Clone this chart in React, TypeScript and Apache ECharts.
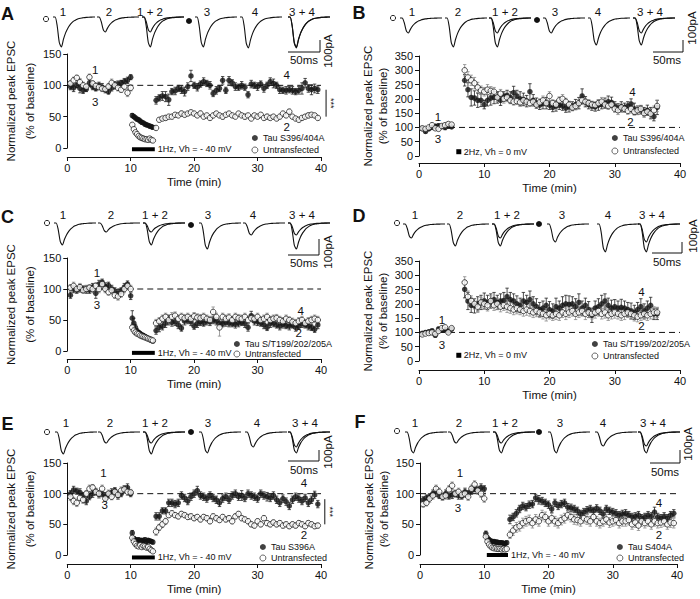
import React, { useEffect, useRef } from "react";
import * as echarts from "echarts";

const FONT = "'Liberation Sans', Arial, Helvetica, sans-serif";
const INK = "#111111";

// ---------- time grids (min) ----------
const T_LTD = [0.5,1,1.5,2,2.5,3,3.5,4,4.5,5,5.5,6,6.5,7,7.5,8,8.5,9,9.5,10,
  10.25,10.5,10.75,11,11.25,11.5,11.75,12,12.25,12.5,12.75,13,13.25,13.5,
  14,14.5,15,15.5,16,16.5,17,17.5,18,18.5,19,19.5,20,20.5,21,21.5,22,22.5,23,23.5,24,24.5,25,25.5,26,26.5,27,27.5,28,28.5,29,29.5,30,30.5,31,31.5,32,32.5,33,33.5,34,34.5,35,35.5,36,36.5,37,37.5,38,38.5,39,39.5];
const T_LTP = [0.5,1,1.5,2,2.5,3,3.5,4,4.5,5,
  7,7.5,8,8.5,9,9.5,10,10.5,11,11.5,12,12.5,13,13.5,14,14.5,15,15.5,16,16.5,17,17.5,18,18.5,19,19.5,20,20.5,21,21.5,22,22.5,23,23.5,24,24.5,25,25.5,26,26.5,27,27.5,28,28.5,29,29.5,30,30.5,31,31.5,32,32.5,33,33.5,34,34.5,35,35.5,36,36.5];

// ---------- x / y tick values ----------
const X_MAX = 40;
const X_INTERVAL = 10;
const Y_MAX_LTD = 150;
const Y_MAX_LTP = 350;
const Y_INTERVAL = 50;

// ---------- panel A ----------
const A_TAU = [98,96,100,95,92,94,104,98,95,100,97,93,90,96,100,102,104,106,108,113,
  52,50,48,46,45,43,41,40,38,37,36,35,34,33,
  76,80,83,82,77,90,91,95,93,90,98,115,100,97,102,106,103,100,87,92,95,108,92,108,104,98,97,100,97,85,102,100,98,102,95,100,106,103,100,93,92,92,93,92,90,92,95,104,95,93,95,93];
const A_TAU_ERR = [5,6,4,7,5,4,6,5,4,5,6,5,4,5,6,5,4,5,5,4,
  3,3,3,3,3,3,3,2,3,3,2,3,3,3,
  6,5,7,8,9,5,6,5,6,7,6,9,5,6,5,6,5,6,5,6,5,6,5,6,5,6,5,6,5,5,6,5,6,5,6,5,6,7,5,6,5,6,5,6,5,6,9,7,6,8,7,6];
const A_UNT = [103,108,112,105,100,98,113,103,99,97,95,94,98,104,100,96,93,98,88,96,
  37,30,25,22,19,17,16,15,14,14,13,15,13,12,
  32,45,47,48,50,50,53,52,55,53,55,57,55,52,55,50,52,48,52,55,52,50,53,55,52,50,55,52,50,52,47,52,50,53,48,50,48,50,47,50,55,52,58,50,47,45,48,50,52,53,52,48];
const A_UNT_ERR = [4,5,4,6,5,4,5,4,5,4,5,4,5,6,4,5,4,5,6,5,
  3,3,2,2,2,2,2,2,2,2,2,2,2,2,
  3,3,3,4,3,3,3,3,4,3,3,3,3,3,4,3,3,3,3,3,3,4,3,3,3,3,3,3,4,3,3,3,3,3,3,4,3,3,3,3,3,3,4,3,3,3,3,3,4,3,3,3];

// ---------- panel B ----------
const B_TAU = [96,86,95,100,104,106,103,100,104,102,
  265,232,205,203,195,195,180,195,203,205,205,195,210,212,205,222,210,200,198,192,225,195,185,178,183,185,178,170,175,178,175,168,172,175,180,185,210,190,180,175,172,178,180,185,190,188,175,168,172,170,175,182,165,160,162,155,160,150,138,170];
const B_TAU_ERR = [5,6,5,6,7,6,5,8,6,5,
  20,25,30,25,25,22,15,20,25,22,20,18,15,18,20,22,20,25,22,20,28,20,18,15,18,20,15,15,18,15,15,15,18,15,18,20,25,18,15,15,15,18,15,18,20,18,15,15,18,15,15,18,20,15,15,15,18,20,15,25];
const B_UNT = [97,95,100,108,97,95,105,108,112,110,
  300,275,265,255,240,230,225,232,228,225,205,218,200,205,195,190,192,188,195,190,185,190,180,188,195,185,210,185,180,195,200,190,180,170,175,185,195,190,185,180,178,185,190,180,175,180,165,160,170,165,158,165,155,160,165,150,155,148,160,175];
const B_UNT_ERR = [5,5,5,6,5,5,6,5,6,5,
  20,20,18,20,18,15,15,18,15,15,15,15,15,15,12,12,12,12,15,12,12,12,12,12,15,12,15,12,12,12,15,12,12,12,12,12,15,12,12,12,12,12,15,12,12,12,12,15,12,12,12,15,12,15,12,15,12,15,15,20];

// ---------- panel C ----------
const C_TAU = [90,100,98,101,100,99,98,103,93,108,111,104,106,100,97,93,97,103,108,89,
  53,45,38,32,30,28,26,25,23,22,20,19,17,16,
  33,38,40,45,50,46,47,42,37,48,50,47,40,44,47,45,48,47,50,48,45,44,46,45,44,43,45,46,44,38,57,48,47,45,42,38,44,45,42,40,43,41,40,42,38,40,44,42,40,38,35,42];
const C_TAU_ERR = [5,6,5,6,5,6,5,6,8,6,5,6,5,6,5,6,5,6,5,6,
  12,8,5,4,3,3,3,3,3,2,2,2,2,2,
  6,7,6,7,8,6,6,6,5,6,6,6,5,6,6,5,6,6,6,6,6,5,6,6,5,6,6,5,6,6,7,6,6,5,6,5,6,6,5,6,6,5,6,5,6,5,6,5,6,5,5,6];
const C_UNT = [102,105,100,103,98,100,102,100,105,100,108,100,95,98,90,88,92,100,105,100,
  38,33,30,28,27,25,24,23,22,21,20,19,18,17,
  45,48,52,55,50,55,57,52,55,53,55,52,56,54,53,55,52,50,63,55,38,55,52,54,50,55,53,52,55,50,53,52,55,50,52,55,50,52,53,50,48,52,50,47,45,48,50,45,48,50,52,50];
const C_UNT_ERR = [5,6,5,6,5,6,5,6,5,6,5,6,5,6,5,6,5,6,5,6,
  5,4,4,3,3,3,3,3,3,3,2,2,2,2,
  6,6,6,6,6,7,6,6,6,6,6,6,6,6,6,6,6,6,8,6,14,6,6,6,6,6,6,6,6,6,6,6,6,5,6,6,6,6,6,6,6,6,5,6,6,6,6,6,6,6,6,6];

// ---------- panel D ----------
const D_TAU = [97,100,102,106,90,112,108,110,105,112,
  251,210,195,193,200,205,210,205,210,215,205,210,212,225,215,210,200,195,210,205,215,200,190,180,185,195,180,175,190,185,195,200,198,200,190,205,185,195,180,160,185,190,200,210,195,185,190,185,188,185,180,175,170,180,190,175,185,195,165,165];
const D_TAU_ERR = [5,5,6,5,6,6,5,6,5,6,
  30,30,25,25,25,25,28,25,25,25,25,25,28,30,25,25,28,25,30,25,30,25,28,25,25,25,28,25,30,25,30,30,30,25,28,30,25,25,28,25,25,28,30,25,25,28,25,25,28,25,25,28,25,25,28,25,25,28,20,20];
const D_UNT = [93,96,98,100,95,105,115,118,100,115,
  275,225,210,200,190,205,200,195,210,195,200,190,195,190,185,180,185,180,175,180,175,170,175,170,165,160,165,160,165,160,170,165,170,175,165,170,175,165,170,165,170,175,165,170,160,165,170,165,160,165,170,165,160,155,160,165,160,165,170,170];
const D_UNT_ERR = [5,5,5,5,5,5,6,6,5,5,
  20,20,18,18,20,18,18,20,18,18,20,18,18,20,18,18,20,18,18,20,18,18,20,18,18,20,18,18,20,18,18,20,18,18,20,18,18,20,18,18,20,18,18,20,18,18,20,18,18,20,18,18,20,18,18,20,18,18,20,18];

// ---------- panel E ----------
const E_TAU = [100,106,104,102,97,88,95,100,103,99,100,96,98,102,105,97,100,107,110,100,
  36,27,25,24,25,23,24,23,25,22,24,23,22,21,
  63,63,72,72,85,85,83,85,97,93,88,95,100,105,97,95,92,97,93,90,85,92,95,90,97,100,95,97,93,100,97,95,92,100,97,95,93,97,90,85,92,87,80,90,95,92,88,93,85,90,98,83];
const E_TAU_ERR = [5,6,5,6,5,6,5,6,5,6,5,6,5,6,5,6,5,6,6,5,
  4,3,3,3,3,3,3,3,3,3,3,3,3,3,
  6,6,5,5,6,6,6,6,6,6,6,6,6,7,6,6,6,6,6,6,6,6,6,6,6,6,6,8,6,6,6,6,6,6,6,7,6,6,6,6,6,6,6,6,6,6,6,6,6,6,6,6];
const E_UNT = [95,88,85,93,90,100,108,110,103,100,108,92,100,95,103,98,105,107,103,102,
  28,22,18,15,14,16,13,15,14,12,13,10,8,6,
  38,45,50,55,65,68,65,63,67,65,62,63,60,62,58,62,60,55,63,60,57,62,58,60,55,63,67,60,58,55,50,48,55,50,60,52,50,53,50,52,48,50,47,50,48,52,50,47,52,50,47,48];
const E_UNT_ERR = [6,6,6,5,6,5,6,5,6,5,6,5,6,5,6,5,6,5,6,5,
  4,4,3,3,3,3,3,3,3,3,3,3,3,3,
  6,5,5,5,4,4,4,4,4,4,4,4,4,4,4,4,4,4,4,4,4,4,4,4,4,4,4,4,4,4,4,4,4,4,4,4,4,4,4,4,4,4,4,4,4,4,4,4,4,4,4,4];

// ---------- panel F ----------
const F_TAU = [90,93,95,100,103,97,95,100,96,98,100,97,96,103,100,105,108,106,110,108,
  35,28,25,23,22,22,21,21,20,20,20,19,19,20,
  58,62,68,75,80,78,82,83,93,90,88,85,82,75,85,80,83,85,78,77,75,72,67,70,73,75,72,76,72,67,75,72,70,68,65,67,68,65,62,63,65,60,62,65,63,70,62,60,63,60,65,68];
const F_TAU_ERR = [5,5,5,6,8,5,5,6,5,6,5,6,5,6,5,6,5,6,6,5,
  4,3,3,3,3,3,3,3,3,3,3,3,3,3,
  7,6,6,6,6,6,6,6,6,7,6,6,6,6,6,6,6,6,6,6,6,6,6,6,6,6,6,6,6,6,6,6,6,6,6,6,6,6,6,6,6,6,6,6,6,8,6,6,6,6,6,6];
const F_UNT = [83,85,92,97,108,103,95,97,107,113,100,103,98,100,95,108,115,105,100,92,
  30,22,17,14,12,11,11,10,10,10,9,10,9,10,
  33,40,45,47,52,55,57,52,58,55,65,62,55,60,55,52,57,60,65,62,58,57,55,60,58,55,62,55,52,55,58,53,55,57,52,55,55,57,50,53,48,55,52,55,50,55,52,53,55,50,53,52];
const F_UNT_ERR = [5,5,6,6,6,6,6,6,6,6,6,6,6,6,6,6,6,6,6,6,
  3,3,2,2,2,2,2,2,2,2,2,2,2,2,
  6,8,8,8,8,8,8,8,8,8,8,8,8,8,8,8,8,8,8,8,8,8,8,8,8,8,8,8,8,8,8,8,8,8,8,8,8,8,8,8,8,8,8,8,8,8,8,8,8,8,8,8];

// ---------- names / labels ----------
const TAU_NAMES = ["Tau S396/404A", "Tau S396/404A", "Tau S/T199/202/205A", "Tau S/T199/202/205A", "Tau S396A", "Tau S404A"];
const UNT_NAME = "Untransfected";
const STIM_TEXT_LTD = "1Hz, Vh = - 40 mV";
const STIM_TEXT_LTP = "2Hz, Vh = 0 mV";
const TRACE_LABELS = ["1", "2", "1 + 2", "3", "4", "3 + 4"];
const TRACE_COMBOS = [[0], [1], [0, 1], [2], [3], [2, 3]];

// EPSC waveform template (time in ms, normalized amplitude)
const EPSC_T = [0,3.2,6.4,9.6,12.8,16,19.2,22.4,25.6,28.8,32,35.2,38.4,41.6,44.8,48,51.2,54.4,57.6,60.8,64];
const EPSC_SHAPE = [0,0,-0.3,-0.85,-1,-0.74,-0.53,-0.38,-0.27,-0.19,-0.13,-0.09,-0.06,-0.04,-0.03,-0.02,-0.012,-0.007,-0.004,-0.002,0];

// peak amplitudes (pA) of traces 1,2,3,4 per panel
const A_TRACE_PA = [250, 125, 250, 258];
const B_TRACE_PA = [125, 242, 125, 225];
const C_TRACE_PA = [183, 75, 217, 100];
const D_TRACE_PA = [117, 183, 150, 233];
const E_TRACE_PA = [183, 92, 175, 125];
const F_TRACE_PA = [175, 92, 175, 117];

// annotation labels [t, value, text]
const A_ANNOT: [number, number, string][] = [[4.4, 125, "1"], [4.4, 73, "3"], [34.6, 117, "4"], [34.6, 33, "2"]];
const B_ANNOT: [number, number, string][] = [[2.9, 138, "1"], [2.9, 60, "3"], [32.7, 223, "4"], [32.4, 119, "2"]];
const C_ANNOT: [number, number, string][] = [[4.7, 126, "1"], [4.7, 74, "3"], [36.8, 65, "4"], [36.5, 29, "2"]];
const D_ANNOT: [number, number, string][] = [[3.5, 145, "1"], [3.5, 56, "3"], [34.1, 242, "4"], [34.1, 123, "2"]];
const E_ANNOT: [number, number, string][] = [[5.7, 134, "1"], [5.9, 82, "3"], [37.3, 117, "4"], [37.3, 33, "2"]];
const F_ANNOT: [number, number, string][] = [[6.2, 133, "1"], [5.9, 76, "3"], [37.2, 84, "4"], [37.2, 33, "2"]];

// stimulation marks [t0, t1, y]
const A_STIM = [10.2, 13.8, -2];
const B_STIM = [6.1, 6.1, 15];
const C_STIM = [10.2, 13.8, -3];
const D_STIM = [6.1, 6.1, 20];
const E_STIM = [10.2, 13.8, -4];
const F_STIM = [10.4, 13.7, 0];

// significance bracket [t, yTop, yBottom]
const A_SIG = [40.8, 93, 50];
const E_SIG = [40.6, 91, 50];

type Panel = {
  letter: string; letterPos: [number, number];
  grid: { left: number; top: number; width: number; height: number };
  xOffset: number; yMax: number; nameGap: number; nameLH: number;
  times: number[]; tau: number[]; tauErr: number[]; unt: number[]; untErr: number[]; tauName: string;
  legend: { left: number; top: number; gap: number };
  stim: number[]; stimKind: "bar" | "square"; stimText: string;
  annot: [number, number, string][]; sig?: number[];
  tr: { lefts: number[]; labelXs: number[]; labelY: number; baseY: number; openC: [number, number]; filledC: [number, number];
        amps: number[]; scale: { vx: number; vy0: number; hy: number; hx0: number; t50: [number, number]; t100: [number, number] } };
};

const PANELS: Panel[] = [
  {
    letter: "A", letterPos: [7.5, 14], grid: { left: 62, top: 54, width: 259, height: 94 }, xOffset: 9, yMax: Y_MAX_LTD, nameGap: 20.5, nameLH: 19,
    times: T_LTD, tau: A_TAU, tauErr: A_TAU_ERR, unt: A_UNT, untErr: A_UNT_ERR, tauName: TAU_NAMES[0],
    legend: { left: 251.5, top: 133, gap: 2 }, stim: A_STIM, stimKind: "bar", stimText: STIM_TEXT_LTD, annot: A_ANNOT, sig: A_SIG,
    tr: { lefts: [53, 97, 142, 195, 240, 288], labelXs: [63, 109, 150, 207, 255, 302], labelY: 12, baseY: 17, openC: [46, 19], filledC: [189, 21], amps: A_TRACE_PA,
      scale: { vx: 320, vy0: 40, hy: 52, hx0: 288, t50: [304, 60], t100: [328, 51] } },
  },
  {
    letter: "B", letterPos: [359, 13], grid: { left: 419, top: 56, width: 261, height: 100 }, xOffset: 7, yMax: Y_MAX_LTP, nameGap: 28.5, nameLH: 15,
    times: T_LTP, tau: B_TAU, tauErr: B_TAU_ERR, unt: B_UNT, untErr: B_UNT_ERR, tauName: TAU_NAMES[1],
    legend: { left: 611.5, top: 133, gap: 3 }, stim: B_STIM, stimKind: "square", stimText: STIM_TEXT_LTP, annot: B_ANNOT,
    tr: { lefts: [400, 445, 489, 543, 588, 633], labelXs: [412, 458, 505, 555, 598, 650], labelY: 12, baseY: 18, openC: [393, 18], filledC: [537, 20], amps: B_TRACE_PA,
      scale: { vx: 683, vy0: 40, hy: 52, hx0: 653, t50: [667, 60], t100: [692, 28] } },
  },
  {
    letter: "C", letterPos: [7.5, 217], grid: { left: 62, top: 258, width: 259, height: 93 }, xOffset: 8, yMax: Y_MAX_LTD, nameGap: 20.5, nameLH: 19,
    times: T_LTD, tau: C_TAU, tauErr: C_TAU_ERR, unt: C_UNT, untErr: C_UNT_ERR, tauName: TAU_NAMES[2],
    legend: { left: 233.5, top: 339, gap: 0 }, stim: C_STIM, stimKind: "bar", stimText: STIM_TEXT_LTD, annot: C_ANNOT,
    tr: { lefts: [54, 98, 143, 199, 243, 288], labelXs: [63, 111, 155, 208, 253, 302], labelY: 215, baseY: 223, openC: [47, 223], filledC: [191, 225], amps: C_TRACE_PA,
      scale: { vx: 319, vy0: 239, hy: 255, hx0: 288, t50: [304, 263], t100: [328, 252] } },
  },
  {
    letter: "D", letterPos: [359, 216], grid: { left: 419, top: 261, width: 261, height: 100 }, xOffset: 9, yMax: Y_MAX_LTP, nameGap: 28.5, nameLH: 15,
    times: T_LTP, tau: D_TAU, tauErr: D_TAU_ERR, unt: D_UNT, untErr: D_UNT_ERR, tauName: TAU_NAMES[3],
    legend: { left: 591.5, top: 339, gap: 2 }, stim: D_STIM, stimKind: "square", stimText: STIM_TEXT_LTP, annot: D_ANNOT,
    tr: { lefts: [403, 447, 492, 547, 597, 638], labelXs: [415, 460, 507, 562, 608, 652], labelY: 215, baseY: 224, openC: [397, 223], filledC: [539, 224], amps: D_TRACE_PA,
      scale: { vx: 682, vy0: 242, hy: 253, hx0: 652, t50: [667, 262], t100: [693, 236] } },
  },
  {
    letter: "E", letterPos: [7.5, 424], grid: { left: 62, top: 463, width: 259, height: 92 }, xOffset: 9, yMax: Y_MAX_LTD, nameGap: 20.5, nameLH: 19,
    times: T_LTD, tau: E_TAU, tauErr: E_TAU_ERR, unt: E_UNT, untErr: E_UNT_ERR, tauName: TAU_NAMES[4],
    legend: { left: 259.5, top: 542, gap: 1 }, stim: E_STIM, stimKind: "bar", stimText: STIM_TEXT_LTD, annot: E_ANNOT, sig: E_SIG,
    tr: { lefts: [55, 98, 143, 199, 245, 288], labelXs: [66, 110, 155, 208, 257, 305], labelY: 423, baseY: 432, openC: [47, 432], filledC: [191, 432], amps: E_TRACE_PA,
      scale: { vx: 319, vy0: 450, hy: 461, hx0: 288, t50: [304, 470], t100: [328, 452] } },
  },
  {
    letter: "F", letterPos: [360, 422], grid: { left: 420, top: 463, width: 257, height: 92 }, xOffset: 9, yMax: Y_MAX_LTD, nameGap: 26.5, nameLH: 15,
    times: T_LTD, tau: F_TAU, tauErr: F_TAU_ERR, unt: F_UNT, untErr: F_UNT_ERR, tauName: TAU_NAMES[5],
    legend: { left: 616.5, top: 542, gap: 1 }, stim: F_STIM, stimKind: "bar", stimText: STIM_TEXT_LTD, annot: F_ANNOT,
    tr: { lefts: [405, 448, 493, 548, 595, 638], labelXs: [415, 459, 505, 560, 603, 653], labelY: 423, baseY: 432, openC: [397, 431], filledC: [539, 432], amps: F_TRACE_PA,
      scale: { vx: 680, vy0: 450, hy: 463, hx0: 650, t50: [665, 472], t100: [688, 444] } },
  },
];

function txt(text: string, x: number, y: number, size: number, extra: any = {}) {
  const { style: extraStyle, ...rest } = extra;
  return {
    type: "text", x, y, silent: true, ...rest,
    style: { text, fontSize: size, fontFamily: FONT, fill: INK, align: "center", verticalAlign: "middle", textAlign: "center", textVerticalAlign: "middle", ...(extraStyle || {}) },
  };
}

function errRender(color: string) {
  return (params: any, api: any) => {
    const x = api.value(0), v = api.value(1), e = api.value(2);
    const top = api.coord([x, v + e]);
    const bot = api.coord([x, v - e]);
    const cw = 1.7;
    const st = { stroke: color, lineWidth: 0.8 };
    return {
      type: "group",
      children: [
        { type: "line", shape: { x1: top[0], y1: top[1], x2: bot[0], y2: bot[1] }, style: st },
        { type: "line", shape: { x1: top[0] - cw, y1: top[1], x2: top[0] + cw, y2: top[1] }, style: st },
        { type: "line", shape: { x1: bot[0] - cw, y1: bot[1], x2: bot[0] + cw, y2: bot[1] }, style: st },
      ],
    };
  };
}

function buildOption() {
  const grid: any[] = [], xAxis: any[] = [], yAxis: any[] = [], series: any[] = [], legend: any[] = [], graphic: any[] = [];
  const axisLabelStyle = { fontSize: 11, fontFamily: FONT, color: INK };

  PANELS.forEach((p) => {
    const gi = grid.length;
    grid.push({ ...p.grid, containLabel: false });
    xAxis.push({
      gridIndex: gi, type: "value", min: 0, max: X_MAX, interval: X_INTERVAL, offset: p.xOffset,
      axisLine: { show: true, onZero: false, lineStyle: { color: INK, width: 1 } },
      axisTick: { show: true, length: 4, lineStyle: { color: INK } },
      axisLabel: { ...axisLabelStyle, margin: 5 },
      splitLine: { show: false },
      name: "Time (min)", nameLocation: "middle", nameGap: 19,
      nameTextStyle: { fontSize: 11.5, fontFamily: FONT, color: INK },
    });
    yAxis.push({
      gridIndex: gi, type: "value", min: 0, max: p.yMax, interval: Y_INTERVAL,
      axisLine: { show: true, onZero: false, lineStyle: { color: INK, width: 1 } },
      axisTick: { show: true, length: 4, lineStyle: { color: INK } },
      axisLabel: { ...axisLabelStyle, margin: 6 },
      splitLine: { show: false },
      name: "Normalized peak EPSC\n(% of baseline)", nameLocation: "middle", nameGap: p.nameGap,
      nameTextStyle: { fontSize: 11.5, fontFamily: FONT, color: INK, lineHeight: p.nameLH, align: "center" },
    });

    // dashed 100% line
    series.push({
      type: "line", xAxisIndex: gi, yAxisIndex: gi, data: [[0, 100], [X_MAX, 100]], symbol: "none", silent: true,
      lineStyle: { color: INK, width: 1, type: [6, 4] }, z: 1,
    });

    const tauData = p.times.map((t, i) => [t, p.tau[i], p.tauErr[i] ?? 0]).filter((d) => d[1] != null);
    const untData = p.times.map((t, i) => [t, p.unt[i], p.untErr[i] ?? 0]).filter((d) => d[1] != null);

    series.push({
      type: "custom", name: "err-tau-" + p.letter, xAxisIndex: gi, yAxisIndex: gi, renderItem: errRender("#222"),
      data: tauData, encode: { x: 0, y: 1 }, silent: true, z: 2, itemStyle: { color: "#222" },
    });
    series.push({
      type: "custom", name: "err-unt-" + p.letter, xAxisIndex: gi, yAxisIndex: gi, renderItem: errRender("#8a8a8a"),
      data: untData, encode: { x: 0, y: 1 }, silent: true, z: 2, itemStyle: { color: "#8a8a8a" },
    });
    series.push({
      type: "scatter", name: p.tauName, xAxisIndex: gi, yAxisIndex: gi, symbol: "circle", symbolSize: 5.5,
      data: tauData.map((d) => [d[0], d[1]]), itemStyle: { color: "#111" }, z: 3,
    });
    series.push({
      type: "scatter", name: UNT_NAME, xAxisIndex: gi, yAxisIndex: gi, symbol: "circle", symbolSize: 5.5,
      data: untData.map((d) => [d[0], d[1]]), itemStyle: { color: "#fff", borderColor: "#111", borderWidth: 0.9 }, z: 4,
    });

    // stimulation mark + label
    const stimKind = p.stimKind, stimText = p.stimText;
    series.push({
      type: "custom", name: "stim-" + p.letter, xAxisIndex: gi, yAxisIndex: gi, silent: true, z: 5, itemStyle: { color: INK },
      data: [p.stim], encode: { x: [0, 1], y: 2 },
      renderItem: (params: any, api: any) => {
        const a = api.coord([api.value(0), api.value(2)]);
        const b = api.coord([api.value(1), api.value(2)]);
        const shapeEl = stimKind === "bar"
          ? { type: "rect", shape: { x: a[0], y: a[1] - 2, width: b[0] - a[0], height: 4 }, style: { fill: "#000" } }
          : { type: "rect", shape: { x: a[0] - 2.5, y: a[1] - 2.5, width: 5, height: 5 }, style: { fill: "#000" } };
        const tx = stimKind === "bar" ? b[0] + 3 : a[0] + 5;
        return {
          type: "group",
          children: [
            shapeEl,
            { type: "text", x: tx, y: a[1], style: { text: stimText, fontSize: 9, fontFamily: FONT, fill: INK, align: "left", verticalAlign: "middle" } },
          ],
        };
      },
    });

    // numeric annotations 1,2,3,4
    const annot = p.annot;
    series.push({
      type: "custom", name: "annot-" + p.letter, xAxisIndex: gi, yAxisIndex: gi, silent: true, z: 6, itemStyle: { color: INK },
      data: annot.map((a) => [a[0], a[1]]), encode: { x: 0, y: 1 },
      renderItem: (params: any, api: any) => {
        const c = api.coord([api.value(0), api.value(1)]);
        return { type: "text", x: c[0], y: c[1], style: { text: annot[params.dataIndex][2], fontSize: 11.5, fontFamily: FONT, fill: INK, align: "center", verticalAlign: "middle" } };
      },
    });

    if (p.sig) {
      series.push({
        type: "custom", name: "sig-" + p.letter, xAxisIndex: gi, yAxisIndex: gi, silent: true, z: 6, itemStyle: { color: INK },
        data: [p.sig], encode: { x: 0, y: [1, 2] },
        renderItem: (params: any, api: any) => {
          const a = api.coord([api.value(0), api.value(1)]);
          const b = api.coord([api.value(0), api.value(2)]);
          return {
            type: "group",
            children: [
              { type: "line", shape: { x1: a[0], y1: a[1], x2: b[0], y2: b[1] }, style: { stroke: INK, lineWidth: 1 } },
              { type: "text", x: a[0] + 5, y: (a[1] + b[1]) / 2, rotation: -Math.PI / 2,
                style: { text: "***", fontSize: 9, fontFamily: FONT, fill: INK, align: "center", verticalAlign: "middle" } },
            ],
          };
        },
      });
    }

    legend.push({
      data: [p.tauName, UNT_NAME], orient: "vertical", left: p.legend.left, top: p.legend.top, itemGap: p.legend.gap,
      itemWidth: 6, itemHeight: 6, padding: 0, selectedMode: false,
      itemStyle: { borderWidth: 0.8 },
      textStyle: { fontSize: 9, fontFamily: FONT, color: INK, lineHeight: 10 },
    });

    // trace insets: each trace is a small grid drawn through its own axes
    p.tr.lefts.forEach((lx, k) => {
      const tgi = grid.length;
      grid.push({ left: lx, top: p.tr.baseY, width: 42, height: 36 });
      xAxis.push({ gridIndex: tgi, type: "value", min: 0, max: 64, show: false });
      yAxis.push({ gridIndex: tgi, type: "value", min: -300, max: 0, show: false });
      TRACE_COMBOS[k].forEach((ti) => {
        const amp = p.tr.amps[ti];
        series.push({
          type: "line", xAxisIndex: tgi, yAxisIndex: tgi, symbol: "none", silent: true, clip: false, smooth: 0.25,
          data: EPSC_T.map((t, j) => [t, EPSC_SHAPE[j] * amp]),
          lineStyle: { color: "#111", width: 1.1 },
        });
      });
      graphic.push(txt(TRACE_LABELS[k], p.tr.labelXs[k], p.tr.labelY, 11.5));
    });

    graphic.push(txt(p.letter, p.letterPos[0], p.letterPos[1], 18, { style: { fontWeight: "bold" } }));
    graphic.push({ type: "circle", silent: true, shape: { cx: p.tr.openC[0], cy: p.tr.openC[1], r: 2.6 }, style: { fill: "#fff", stroke: "#111", lineWidth: 0.9 } });
    graphic.push({ type: "circle", silent: true, shape: { cx: p.tr.filledC[0], cy: p.tr.filledC[1], r: 3 }, style: { fill: "#111" } });
    const s = p.tr.scale;
    graphic.push({ type: "polyline", silent: true, shape: { points: [[s.hx0, s.hy], [s.vx, s.hy], [s.vx, s.vy0]] }, style: { stroke: INK, lineWidth: 1, fill: null } });
    graphic.push(txt("50ms", s.t50[0], s.t50[1], 11.5));
    graphic.push(txt("100pA", s.t100[0], s.t100[1], 11.5, { rotation: Math.PI / 2 }));
  });

  return { animation: false, backgroundColor: "#fff", grid, xAxis, yAxis, series, legend, graphic };
}

export default function App() {
  const ref = useRef<HTMLDivElement>(null);
  useEffect(() => {
    document.body.style.margin = "0";
    if (!ref.current) return;
    const chart = echarts.init(ref.current, undefined, { renderer: "svg" });
    chart.setOption(buildOption() as any);
    return () => chart.dispose();
  }, []);
  return <div ref={ref} style={{ width: 700, height: 599 }} />;
}
